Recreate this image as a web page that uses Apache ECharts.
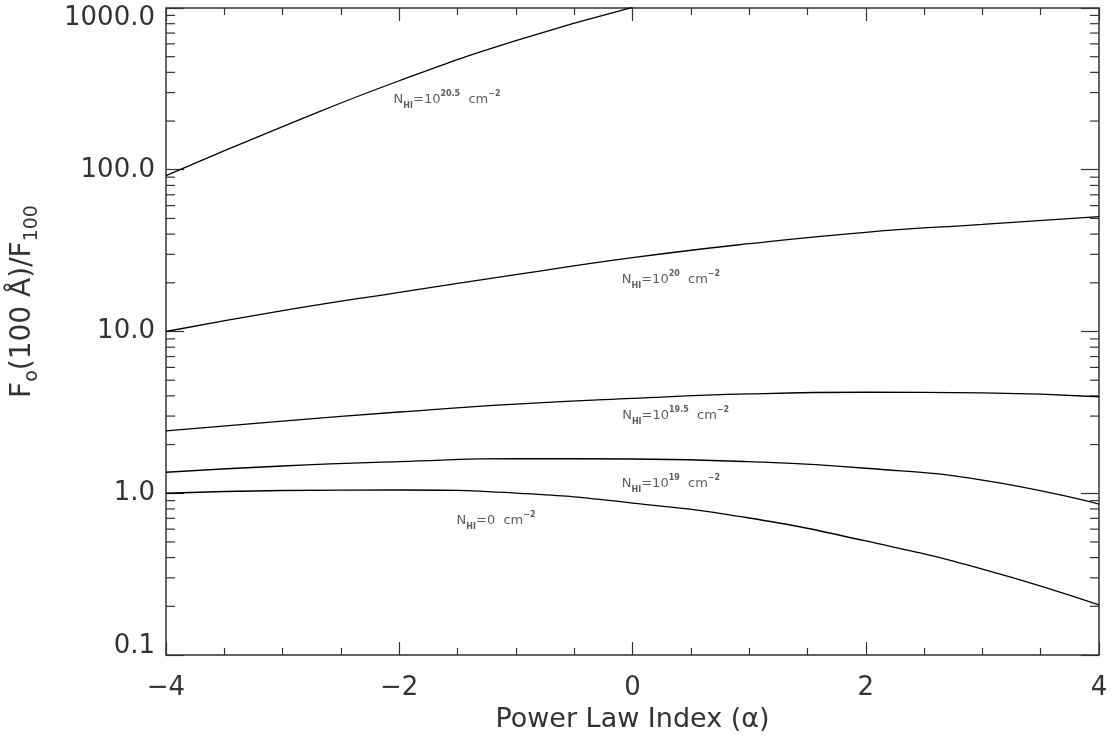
<!DOCTYPE html>
<html>
<head>
<meta charset="utf-8">
<script src="https://cdn.jsdelivr.net/npm/echarts@6/dist/echarts.min.js"></script>
<style>html,body{margin:0;padding:0;background:#fff;}#c{width:1112px;height:745px;}</style>
</head>
<body>
<div id="c"></div>
<script>
// ---- data ----
const alphaValues = [-4, -3, -2, -1, 0, 1, 2, 3, 4];
const nh0   = [1.00, 1.04, 1.047, 1.003, 0.87, 0.703, 0.507, 0.34, 0.204];
const nh19  = [1.348, 1.474, 1.567, 1.635, 1.628, 1.567, 1.427, 1.207, 0.858];
const nh195 = [2.43, 2.79, 3.18, 3.56, 3.86, 4.11, 4.21, 4.17, 3.95];
const nh20  = [10.0, 13.45, 17.47, 22.45, 28.6, 34.9, 41.06, 46.0, 51.3];
const alpha205 = [-4, -3, -2, -1, 0];
const nh205 = [92, 184.6, 355, 628, 1009];
const yMinorTicks = [0.2,0.3,0.4,0.5,0.6,0.7,0.8,0.9,2,3,4,5,6,7,8,9,20,30,40,50,60,70,80,90,200,300,400,500,600,700,800,900];
const curveLabels = [
  {a: -1.59, v: 270,  exp: '20.5'},
  {a: 0.33,  v: 20.8, exp: '20'},
  {a: 0.37,  v: 3.0,  exp: '19.5'},
  {a: 0.33,  v: 1.14, exp: '19'},
  {a: -1.17, v: 0.674, exp: null}
];

const FONT = 'DejaVu Sans';
const TXT = '#333';
const AX = '#333';

function pairs(xs, ys) { return xs.map((x, i) => [x, ys[i]]); }
function lineSeries(name, xs, ys) {
  return {
    name, type: 'line', data: pairs(xs, ys), smooth: true,
    showSymbol: false, symbol: 'none', clip: true, silent: true,
    lineStyle: {color: '#000', width: 1.3}, xAxisIndex: 0, yAxisIndex: 0
  };
}

const chart = echarts.init(document.getElementById('c'), null, {renderer: 'canvas'});
const xCommon = {
  type: 'value', min: -4, max: 4, interval: 2,
  axisLine: {show: true, onZero: false, lineStyle: {color: AX, width: 1.5}},
  axisTick: {show: true, inside: true, length: 13, lineStyle: {color: AX, width: 1.2}},
  minorTick: {show: true, splitNumber: 4, length: 7, lineStyle: {color: AX, width: 1.2}},
  splitLine: {show: false}
};
const yCommon = {
  type: 'log', logBase: 10, min: 0.1, max: 1000, interval: 1,
  axisLine: {show: true, onZero: false, lineStyle: {color: AX, width: 1.5}},
  axisTick: {show: true, inside: true, length: 18, lineStyle: {color: AX, width: 1.2}},
  splitLine: {show: false}
};
const yLabelMin = 0.1, yLabelMax = 1000;

const option = {
  backgroundColor: '#fff',
  animation: false,
  grid: {left: 166, right: 13, top: 8, bottom: 90, containLabel: false, outerBoundsMode: 'none'},
  xAxis: [
    Object.assign({}, xCommon, {
      position: 'bottom',
      name: 'Power Law Index (\u03b1)', nameLocation: 'middle', nameGap: 51,
      nameTextStyle: {fontFamily: FONT, fontSize: 27, color: TXT},
      axisLabel: {show: true, margin: 20, fontFamily: FONT, fontSize: 26, color: TXT,
        formatter: v => String(v).replace('-', '\u2212')}
    }),
    Object.assign({}, xCommon, {position: 'top', axisLabel: {show: false}})
  ],
  yAxis: [
    Object.assign({}, yCommon, {
      position: 'left',
      name: 'F{sub|o}(100 \u00c5)/F{sub|100}', nameLocation: 'middle', nameGap: 124, nameRotate: 90,
      nameTextStyle: {fontFamily: FONT, fontSize: 28, color: TXT, lineHeight: 38, padding: [0, 0, 0, 60],
        rich: {sub: {fontFamily: FONT, fontSize: 19, color: TXT, verticalAlign: 'bottom', lineHeight: 38}}},
      axisLabel: {show: true, margin: 11, fontFamily: FONT, fontSize: 26, color: TXT,
        showMinLabel: true, showMaxLabel: true,
        formatter: function (v) {
          const s = Number(v).toFixed(1);
          if (Math.abs(v - yLabelMax) < 1e-6) return '{t|' + s + '}';
          if (Math.abs(v - yLabelMin) < 1e-9) return '{b|' + s + '}';
          return s;
        },
        rich: {
          t: {fontFamily: FONT, fontSize: 26, color: TXT, padding: [20, 0, 0, 0]},
          b: {fontFamily: FONT, fontSize: 26, color: TXT, padding: [0, 0, 18, 0]}
        }
      }
    }),
    Object.assign({}, yCommon, {position: 'right', axisLabel: {show: false}})
  ],
  series: [
    lineSeries('NHI=10^20.5', alpha205, nh205),
    lineSeries('NHI=10^20', alphaValues, nh20),
    lineSeries('NHI=10^19.5', alphaValues, nh195),
    lineSeries('NHI=10^19', alphaValues, nh19),
    lineSeries('NHI=0', alphaValues, nh0),
    {
      type: 'custom', silent: true, clip: false, xAxisIndex: 0, yAxisIndex: 0,
      data: yMinorTicks.map(v => [-4, v]),
      renderItem: function (params, api) {
        const v = api.value(1);
        const pl = api.coord([-4, v]);
        const pr = api.coord([4, v]);
        const st = {stroke: AX, lineWidth: 1.2};
        return {type: 'group', children: [
          {type: 'line', shape: {x1: pl[0], y1: pl[1], x2: pl[0] + 9, y2: pl[1]}, style: st},
          {type: 'line', shape: {x1: pr[0], y1: pr[1], x2: pr[0] - 9, y2: pr[1]}, style: st}
        ]};
      }
    },
    {
      type: 'scatter', silent: true, symbolSize: 0, xAxisIndex: 0, yAxisIndex: 0,
      data: curveLabels.map(l => ({value: [l.a, l.v]})),
      label: {
        show: true, position: 'inside', color: TXT, fontFamily: FONT, fontSize: 13,
        formatter: function (p) {
          const e = curveLabels[p.dataIndex].exp;
          return '{n|N}{s|HI}{n|=' + (e ? '10' : '0') + '}' + (e ? '{p|' + e + '}' : '') + '{n|  cm}{p|\u22122}';
        },
        rich: {
          n: {fontFamily: FONT, fontSize: 13, color: TXT, lineHeight: 20},
          s: {fontFamily: FONT, fontSize: 8, color: TXT, verticalAlign: 'bottom', lineHeight: 20, fontWeight: 'bold'},
          p: {fontFamily: FONT, fontSize: 8, color: TXT, verticalAlign: 'top', lineHeight: 20, fontWeight: 'bold'}
        }
      }
    }
  ]
};
chart.setOption(option);
</script>
</body>
</html>
